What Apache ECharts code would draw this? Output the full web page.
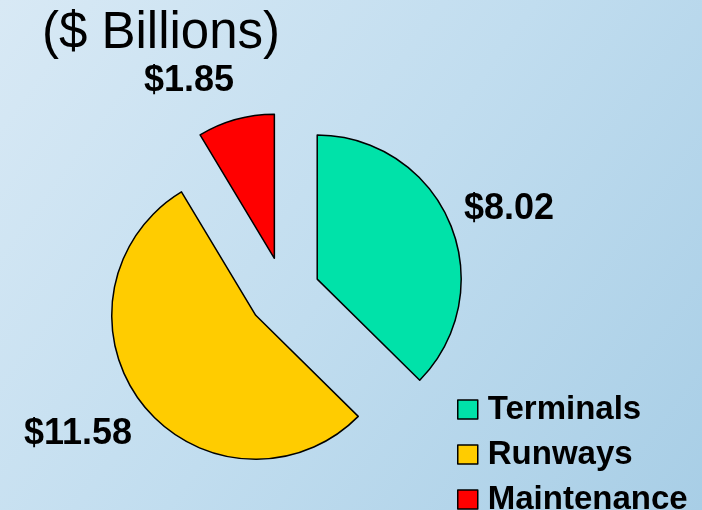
<!DOCTYPE html>
<html>
<head>
<meta charset="utf-8">
<script src="https://cdn.jsdelivr.net/npm/echarts@6/dist/echarts.min.js"></script>
<style>
  html, body { margin: 0; padding: 0; }
  #chart { width: 702px; height: 510px; }
</style>
</head>
<body>
<div id="chart"></div>
<script>
// Airport capital needs, by category ($ Billions)
const categories = ['Terminals', 'Runways', 'Maintenance'];
const values = [8.02, 11.58, 1.85];
const titleText = '($ Billions)';

const colors = ['#00E2A9', '#FFCC00', '#FF0000'];
// value label centre points (px), one per slice
const labelSpots = [[509, 209], [78, 434], [189, 81]];
// legend rows: top edge of each row (px)
const legendRowTops = [393, 438, 483];

const chart = echarts.init(document.getElementById('chart'), null, { renderer: 'canvas' });

// one legend component per row so the rows can run past the bottom edge
const legends = categories.map((name, i) => ({
  orient: 'vertical',
  left: 457,
  top: legendRowTops[i],
  padding: 0,
  itemWidth: 20,
  itemHeight: 19,
  icon: 'rect',
  selectedMode: false,
  data: [name],
  itemStyle: { borderColor: '#000', borderWidth: 1.5 },
  textStyle: {
    fontFamily: 'Liberation Sans',
    fontWeight: 'bold',
    fontSize: 33,
    lineHeight: 19,
    color: '#000',
    padding: [0, 0, 0, 5]
  }
}));

// value labels, text taken from the same values as the slices
const valueLabels = values.map((v, i) => ({
  type: 'text',
  x: labelSpots[i][0],
  y: labelSpots[i][1],
  silent: true,
  style: {
    text: '$' + v.toFixed(2),
    fill: '#000',
    font: 'bold 36px "Liberation Sans"',
    align: 'center',
    verticalAlign: 'middle'
  }
}));

chart.setOption({
  backgroundColor: new echarts.graphic.LinearGradient(0, 0, 1, 1, [
    { offset: 0, color: '#d8e9f5' },
    { offset: 0.5, color: '#c1ddef' },
    { offset: 1, color: '#a8cee6' }
  ]),
  title: {
    text: titleText,
    left: 37,
    top: 3,
    textStyle: {
      fontFamily: 'Liberation Sans',
      fontWeight: 'normal',
      fontSize: 51,
      color: '#000'
    }
  },
  legend: legends,
  graphic: valueLabels,
  series: [{
    type: 'pie',
    center: [284, 293],
    radius: 144,
    startAngle: 90,
    clockwise: true,
    selectedMode: 'multiple',
    selectedOffset: 36,
    animation: false,
    emphasis: { disabled: true },
    itemStyle: { borderColor: '#000', borderWidth: 1.5 },
    select: { itemStyle: { borderColor: '#000', borderWidth: 1.5 } },
    label: { show: false },
    labelLine: { show: false },
    data: categories.map((name, i) => ({
      name: name,
      value: values[i],
      selected: true,
      itemStyle: { color: colors[i] }
    }))
  }]
});
</script>
</body>
</html>
